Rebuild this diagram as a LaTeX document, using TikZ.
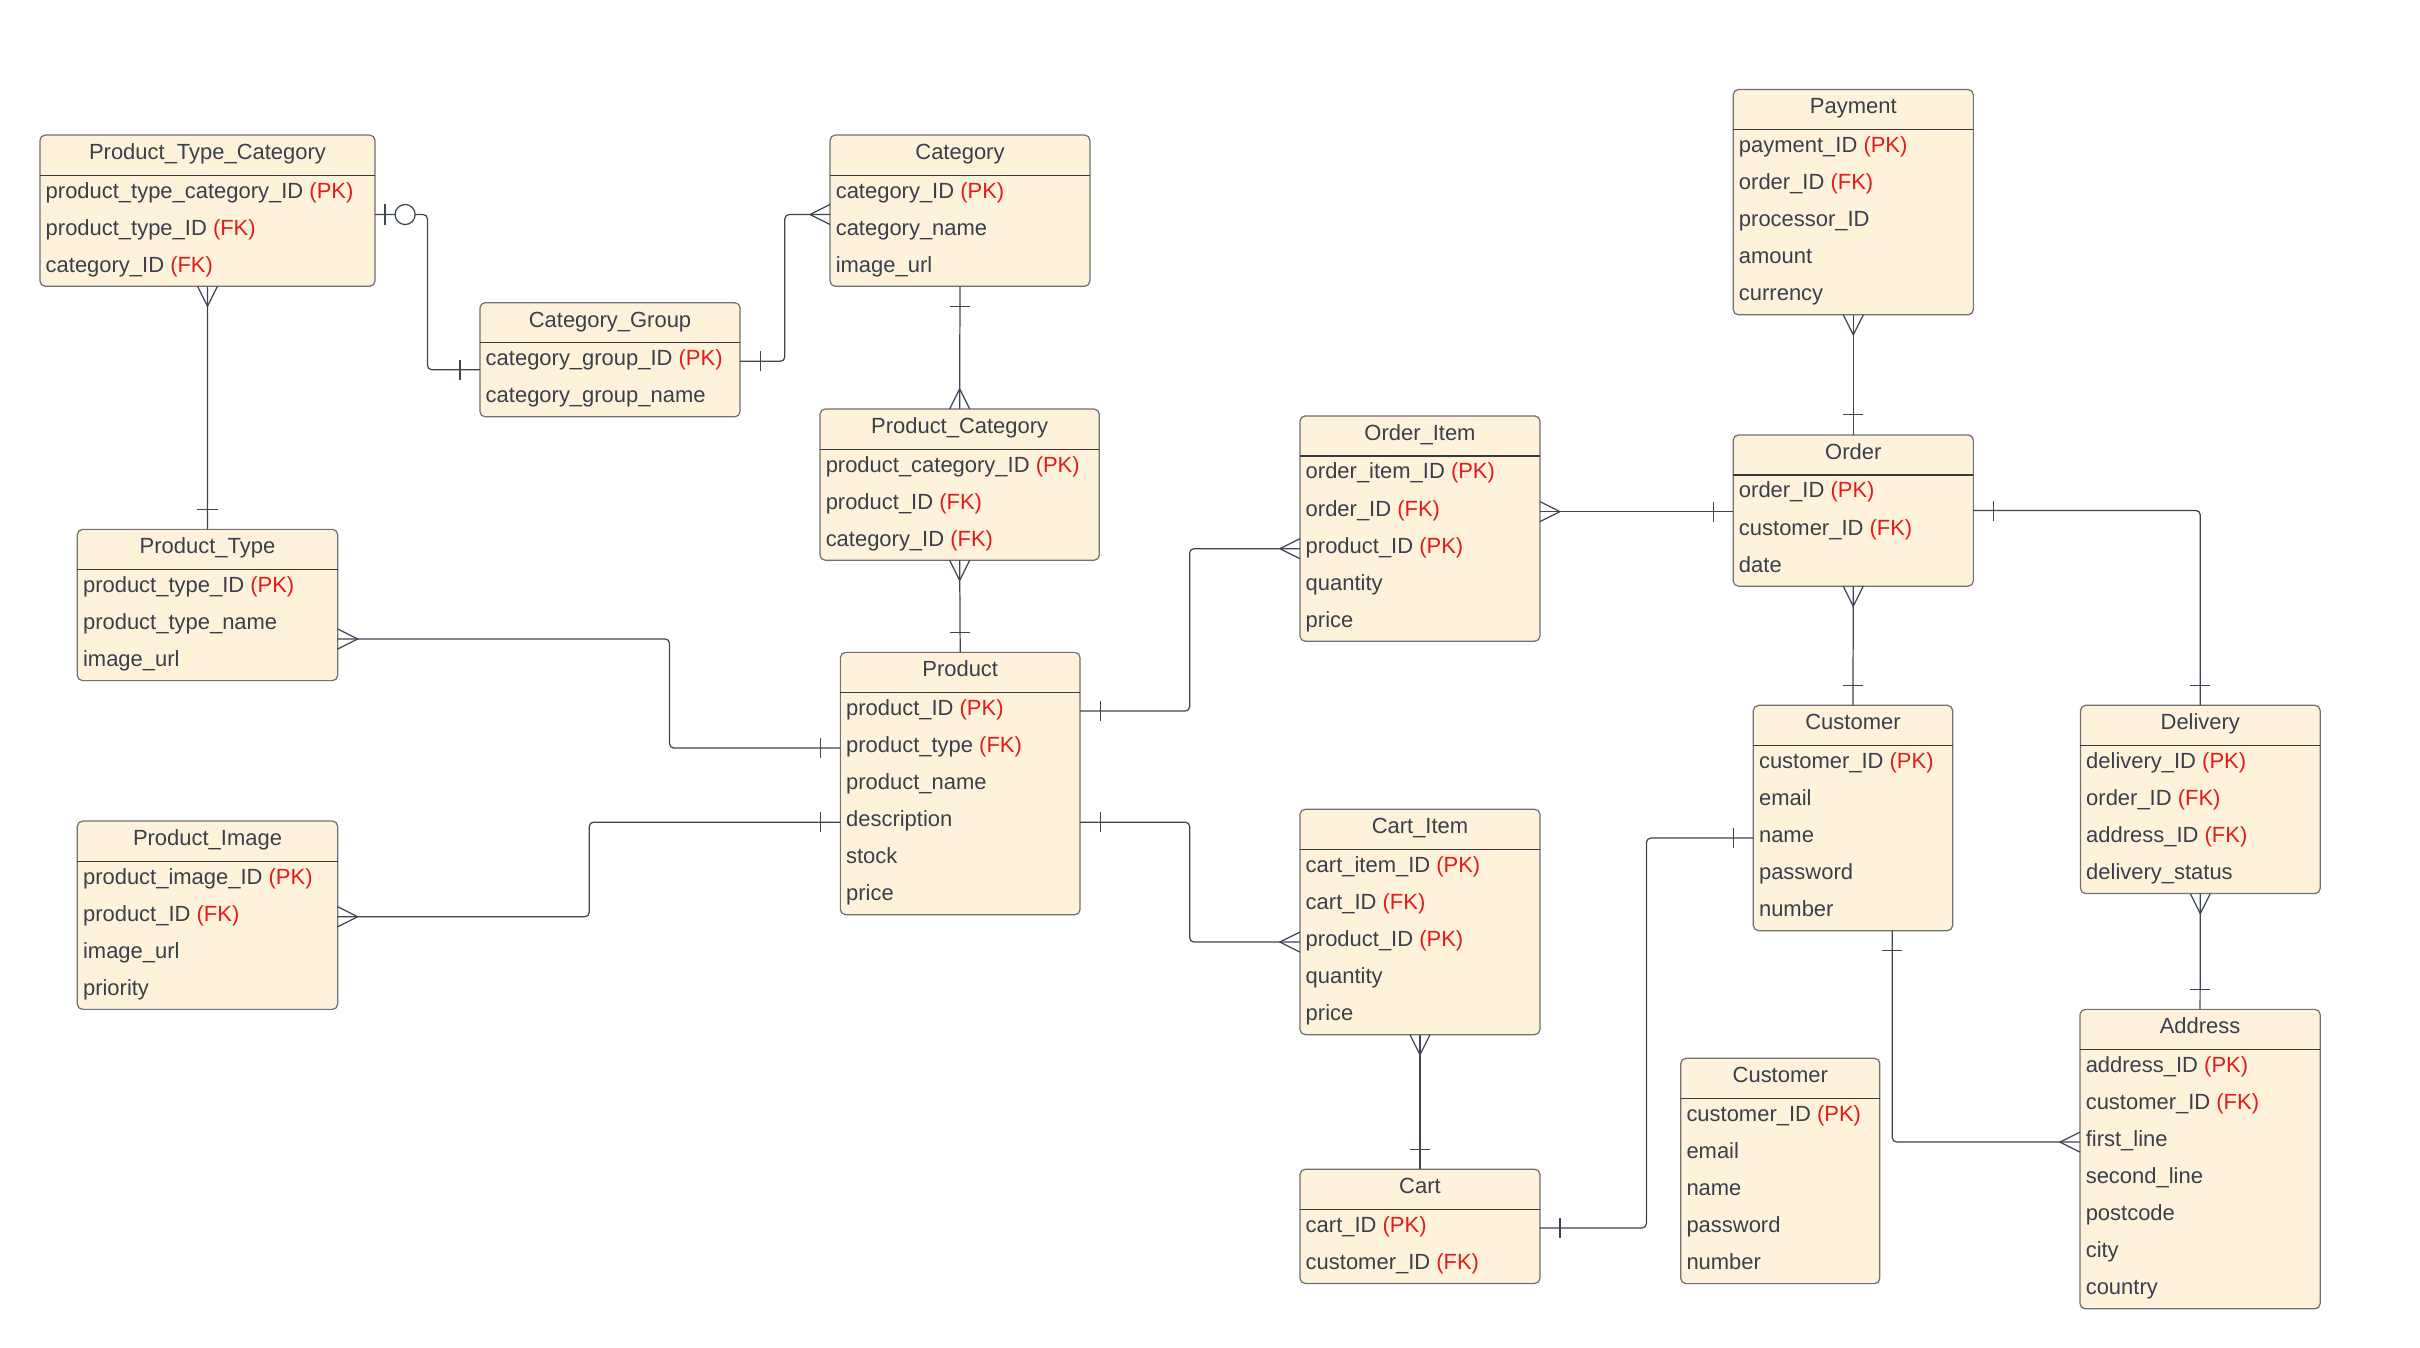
\documentclass[tikz,border=0pt]{standalone}
\usepackage{fontspec}
\setmainfont{Liberation Sans}
\usepackage{xcolor}
\usepackage{tikz}
\usetikzlibrary{calc}

\definecolor{boxfill}{HTML}{FEF2DA}
\definecolor{boxline}{HTML}{707070}
\definecolor{headline}{HTML}{3A3A3A}
\definecolor{txt}{HTML}{3A3F4B}
\definecolor{keyred}{HTML}{E31B1B}
\definecolor{relline}{HTML}{3D4452}

\newcommand{\pk}{\textcolor{keyred}{(PK)}}
\newcommand{\fk}{\textcolor{keyred}{(FK)}}

% name, top left, width, rows, title, fields
\newcommand{\entity}[6]{%
  \node[ebox, anchor=north west, minimum width={#3*0.030868cm}, minimum height={(26+24*#4)*0.030868cm}] (#1) at (#2) {};
  \draw[ehead] ($(#1.north west)+(0,26)$) -- ($(#1.north east)+(0,26)$);
  \node[etitle] (#1-t) at ($(#1.north)+(0,13)$) {#5};
  \foreach \fld [count=\i] in {#6}
    \node[erow] (#1-\i) at ($(#1.north west)+(3.5,14+24*\i)$) {\fld};
}

\tikzset{
  crowfoot/.pic={\draw[rel] (0,-6.5) -- (13,0) -- (0,6.5);},
  onebar/.pic={\draw[rel] (13,-6.5) -- (13,6.5);},
  zeroonebar/.pic={\draw[rel] (6.5,-6.5) -- (6.5,6.5); \draw[rel, fill=white] (19.5,0) circle[radius=6.5];}
}

\begin{document}
\begin{tikzpicture}[x=0.030868cm, y=-0.030868cm,
  font=\fontsize{12.5}{15}\selectfont, text=txt,
  ebox/.style={draw=boxline, fill=boxfill, line width=0.7pt, rounded corners=3pt, inner sep=0pt, outer sep=0pt},
  ehead/.style={draw=headline, line width=0.7pt},
  etitle/.style={inner sep=0pt, text height=0.75em, text depth=0.25em},
  erow/.style={etitle, anchor=west},
  rel/.style={draw=relline, line width=0.7pt},
  link/.style={rel, rounded corners=2.5pt}]
\useasboundingbox (0,0) rectangle (1568,873.4);

\entity{ptc}{25.9,87.5}{217.1}{3}{Product\_Type\_Category}{product\_type\_category\_ID \pk, product\_type\_ID \fk, category\_ID \fk}
\entity{cat}{537.8,87.5}{168.4}{3}{Category}{category\_ID \pk, category\_name, image\_url}
\entity{cg}{311,196.1}{168.5}{2}{Category\_Group}{category\_group\_ID \pk, category\_group\_name}
\entity{pcat}{531.3,265}{181}{3}{Product\_Category}{product\_category\_ID \pk, product\_ID \fk, category\_ID \fk}
\entity{ptype}{50.1,343}{168.7}{3}{Product\_Type}{product\_type\_ID \pk, product\_type\_name, image\_url}
\entity{prod}{544.5,422.7}{155.3}{6}{Product}{product\_ID \pk, product\_type \fk, product\_name, description, stock, price}
\entity{pimg}{50.1,532}{168.7}{4}{Product\_Image}{product\_image\_ID \pk, product\_ID \fk, image\_url, priority}
\entity{oitem}{842.3,269.5}{155.5}{5}{Order\_Item}{order\_item\_ID \pk, order\_ID \fk, product\_ID \pk, quantity, price}
\entity{citem}{842.3,524.4}{155.5}{5}{Cart\_Item}{cart\_item\_ID \pk, cart\_ID \fk, product\_ID \pk, quantity, price}
\entity{cart}{842.3,757.6}{155.5}{2}{Cart}{cart\_ID \pk, customer\_ID \fk}
\entity{pay}{1123,58}{155.6}{5}{Payment}{payment\_ID \pk, order\_ID \fk, processor\_ID, amount, currency}
\entity{order}{1123,281.8}{155.6}{3}{Order}{order\_ID \pk, customer\_ID \fk, date}
\entity{cust}{1136,457}{129.2}{5}{Customer}{customer\_ID \pk, email, name, password, number}
\entity{deliv}{1348,457}{155.3}{4}{Delivery}{delivery\_ID \pk, order\_ID \fk, address\_ID \fk, delivery\_status}
\entity{addr}{1347.7,654}{155.6}{7}{Address}{address\_ID \pk, customer\_ID \fk, first\_line, second\_line, postcode, city, country}
\entity{cust2}{1089,685.7}{129}{5}{Customer}{customer\_ID \pk, email, name, password, number}

\coordinate (ptc-r) at ($(ptc.east)+(0,2.5)$);
\coordinate (cg-l) at ($(cg.west)+(0,6.5)$);
\coordinate (cat-l) at ($(cat.west)+(0,2.5)$);
\coordinate (ptype-r) at ($(ptype.east)+(0,22)$);
\coordinate (cust-b) at ($(cust.south)+(25.5,0)$);

\draw[link] (ptc-r) -- ++(34,0) |- (cg-l);
\draw[link] (cg.east |- cg-1) -- ++(29,0) |- (cat-l);
\draw[link] (ptc.south) -- (ptype.north);
\draw[link] (cat.south) -- (pcat.north);
\draw[link] (pcat.south) -- (prod.north);
\draw[link] (ptype-r) -- ++(215,0) |- (prod.west |- prod-2);
\draw[link] (pimg.east |- pimg-2) -- ++(163,0) |- (prod.west |- prod-4);
\draw[link] (prod.east |- prod-1) -- ++(71,0) |- (oitem.west |- oitem-3);
\draw[link] (prod.east |- prod-4) -- ++(71,0) |- (citem.west |- citem-3);
\draw[link] (oitem.east |- oitem-2) -- (order.west |- oitem-2);
\draw[link] (pay.south) -- (order.north);
\draw[link] (order.east) -| (deliv.north);
\draw[link] (order.south) -- (cust.north);
\draw[link] (deliv.south) -- (addr.north);
\draw[link] (cust-b) |- (addr.west |- addr-3);
\draw[link] (citem.south) -- (cart.north);
\draw[link] (cart.east |- cart-1) -- ++(69,0) |- (cust.west |- cust-3);

\pic at (ptc-r) {zeroonebar};
\pic[rotate=180] at (cg-l) {onebar};
\pic at (cg.east |- cg-1) {onebar};
\pic[rotate=180] at (cat-l) {crowfoot};
\pic[rotate=-90] at (ptc.south) {crowfoot};
\pic[rotate=90] at (ptype.north) {onebar};
\pic[rotate=-90] at (cat.south) {onebar};
\pic[rotate=90] at (pcat.north) {crowfoot};
\pic[rotate=-90] at (pcat.south) {crowfoot};
\pic[rotate=90] at (prod.north) {onebar};
\pic at (ptype-r) {crowfoot};
\pic[rotate=180] at (prod.west |- prod-2) {onebar};
\pic at (pimg.east |- pimg-2) {crowfoot};
\pic[rotate=180] at (prod.west |- prod-4) {onebar};
\pic at (prod.east |- prod-1) {onebar};
\pic[rotate=180] at (oitem.west |- oitem-3) {crowfoot};
\pic at (prod.east |- prod-4) {onebar};
\pic[rotate=180] at (citem.west |- citem-3) {crowfoot};
\pic at (oitem.east |- oitem-2) {crowfoot};
\pic[rotate=180] at (order.west |- oitem-2) {onebar};
\pic[rotate=-90] at (pay.south) {crowfoot};
\pic[rotate=90] at (order.north) {onebar};
\pic at (order.east) {onebar};
\pic[rotate=90] at (deliv.north) {onebar};
\pic[rotate=-90] at (order.south) {crowfoot};
\pic[rotate=90] at (cust.north) {onebar};
\pic[rotate=-90] at (deliv.south) {crowfoot};
\pic[rotate=90] at (addr.north) {onebar};
\pic[rotate=-90] at (cust-b) {onebar};
\pic[rotate=180] at (addr.west |- addr-3) {crowfoot};
\pic[rotate=-90] at (citem.south) {crowfoot};
\pic[rotate=90] at (cart.north) {onebar};
\pic at (cart.east |- cart-1) {onebar};
\pic[rotate=180] at (cust.west |- cust-3) {onebar};
\end{tikzpicture}
\end{document}
